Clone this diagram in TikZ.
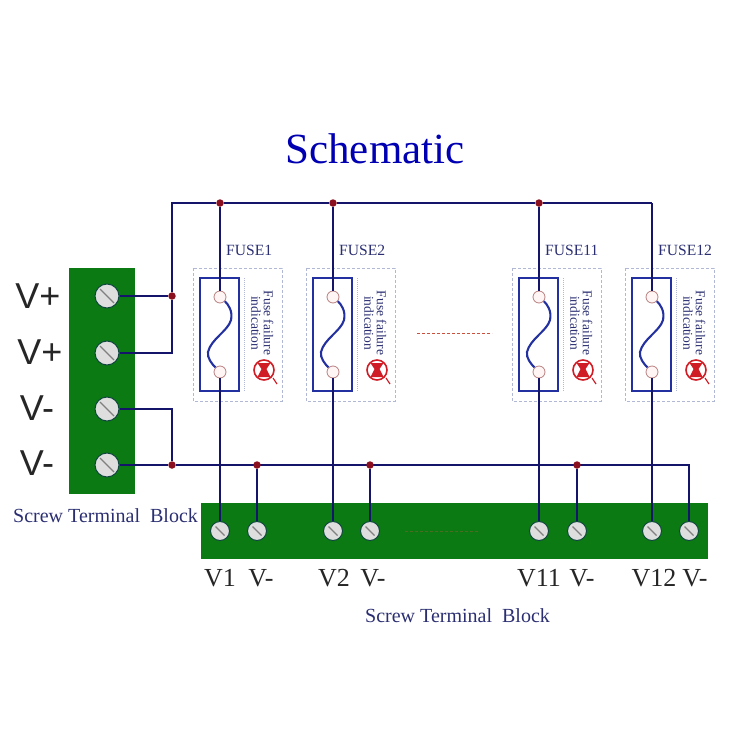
\documentclass[tikz,border=0pt]{standalone}
\usepackage{fontspec}
\setmainfont{Liberation Serif}
\newfontfamily\labelsans{Liberation Sans}
\definecolor{wirenavy}{HTML}{14146A}
\definecolor{blockgreen}{HTML}{0B7A12}
\definecolor{dotred}{HTML}{8A1020}
\definecolor{fuseblue}{HTML}{2330A0}
\definecolor{framegray}{HTML}{B0B8D6}
\definecolor{labelblue}{HTML}{2B2F72}
\definecolor{ledred}{HTML}{D01C24}
\definecolor{gapred}{HTML}{C8503C}
\begin{document}
\begin{tikzpicture}[x=1pt,y=-1pt]
  \tikzstyle{wire}=[draw=wirenavy, line width=2pt]
  \tikzstyle{junction}=[circle, fill=dotred, minimum size=7.5pt, inner sep=0pt]
  \tikzstyle{block}=[fill=blockgreen, draw=none, inner sep=0pt]
  \tikzstyle{screw}=[circle, draw=wirenavy!50!blockgreen, line width=1pt, fill=black!13, minimum size=19pt, inner sep=0pt,
    path picture={\draw[black!50, line width=1.3pt] ([xshift=5pt,yshift=-5pt]path picture bounding box.north west) -- ([xshift=-5pt,yshift=5pt]path picture bounding box.south east);}]
  \tikzstyle{bigscrew}=[screw, minimum size=24pt]
  \tikzstyle{contact}=[circle, draw=red!45!black!50, fill=red!4, line width=0.8pt, minimum size=12pt, inner sep=0pt]
  \tikzstyle{fuselabel}=[text=labelblue, font=\fontsize{15.6}{15.6}\selectfont, inner sep=0pt]
  \tikzstyle{hint}=[text=labelblue, font=\fontsize{13.5}{13.5}\selectfont, rotate=-90, inner sep=0pt]
  \tikzstyle{portsans}=[font=\labelsans\fontsize{36}{36}\selectfont, text=black!85, inner sep=0pt]
  \tikzstyle{portserif}=[font=\fontsize{26}{26}\selectfont, text=black!85, inner sep=0pt]
  \tikzstyle{blockname}=[text=labelblue, font=\fontsize{20}{20}\selectfont, inner sep=0pt]
  \useasboundingbox (0,0) rectangle (750,750);

  % Title
  \node[text=blue!70!black, font=\fontsize{43}{43}\selectfont, inner sep=0pt] (title) at (375,149) {Schematic};

  % Terminal blocks
  \node[block, minimum width=66pt, minimum height=226pt] (leftblock) at (102,381) {};
  \node[block, minimum width=507pt, minimum height=56pt] (bottomblock) at (454.5,531) {};

  % Left terminals
  \node[bigscrew] (la) at (107,296) {};
  \node[bigscrew] (lb) at (107,353) {};
  \node[bigscrew] (lc) at (107,409) {};
  \node[bigscrew] (ld) at (107,465) {};
  \node[portsans] (va) at (38,296) {V+};
  \node[portsans] (vb) at (40,352) {V+};
  \node[portsans] (vc) at (37,408) {V-};
  \node[portsans] (vd) at (37,463) {V-};

  % Junctions
  \node[junction] (jplus) at (172,296) {};
  \node[junction] (jminus) at (172,465) {};
  \node[junction] (jt1) at (220,203) {};
  \node[junction] (jt2) at (333,203) {};
  \node[junction] (jt11) at (539,203) {};
  \coordinate (jt12) at (652,203);
  \coordinate (cornertop) at (172,203);
  \coordinate (cornerb) at (172,353);
  \coordinate (cornerc) at (172,409);
  \coordinate (endbus) at (689,465);

  % One branch per fuse
  \foreach \x/\n/\lab/\port/\px/\nx/\mx in {220/1/FUSE1/V1/220/257/261, 333/2/FUSE2/V2/334/370/373, 539/11/FUSE11/V11/539/577/582, 652/12/FUSE12/V12/654/689/695}{
    \begin{scope}[shift={(\x,0)}]
      \node[fuselabel, anchor=west] (label\n) at (6,250) {\lab};
      \draw[framegray, densely dashed, line width=0.9pt] (-27,268) rectangle (62,401);
      \draw[fuseblue, line width=2pt] (-20,278) rectangle (19,391);
      \draw[framegray, densely dotted, line width=1pt] (24,278) -- (24,391);
      \node[contact] (fa\n) at (0,297) {};
      \node[contact] (fb\n) at (0,372) {};
      \draw[fuseblue, line width=2.1pt] (fa\n) .. controls (8,304) and (13,311) .. (11,320) .. controls (8,331) and (-9,339) .. (-12,352) .. controls (-13,358) and (-8,364) .. (fb\n);
      \node[hint] (hinta\n) at (48.5,323) {Fuse failure};
      \node[hint] (hintb\n) at (36,323) {indication};
      \node[circle, draw=ledred, line width=1.6pt, minimum size=20pt, inner sep=0pt] (led\n) at (44,370) {};
      \fill[ledred] (37.5,363) -- (50.5,363) -- (46.5,369) -- (50.5,377) -- (37.5,377) -- (41.5,369) -- cycle;
      \draw[ledred, line width=1.2pt] (53,378) -- (57,384);
      \node[screw] (pin\n) at (0,531) {};
    \end{scope}
    \node[portserif] (port\n) at (\px,578) {\port};
    \node[screw] (pinm\n) at (\nx,531) {};
    \node[portserif] (portm\n) at (\mx,578) {V-};
    \draw[wire] (jt\n) -- (fa\n);
    \draw[wire] (fb\n) -- (pin\n);
  }

  % Bus wires
  \draw[wire] (la) -- (jplus);
  \draw[wire] (lb) -- (cornerb) -- (jplus) -- (cornertop) -- (jt1) -- (jt2) -- (jt11) -- (jt12);
  \draw[wire] (lc) -- (cornerc) -- (jminus);
  \draw[wire] (ld) -- (jminus) -- (endbus) -- (pinm12);
  \foreach \n/\nx in {1/257, 2/370, 11/577}{
    \node[junction] (jb\n) at (\nx,465) {};
    \draw[wire] (jb\n) -- (pinm\n);
  }

  % Omitted channels
  \coordinate (gapa) at (417,333);
  \coordinate (gapb) at (492,333);
  \coordinate (gapc) at (405,531);
  \coordinate (gapd) at (480,531);
  \draw[gapred, densely dashed, line width=0.8pt] (gapa) -- (gapb);
  \draw[gapred!35!blockgreen, densely dashed, line width=0.7pt] (gapc) -- (gapd);

  % Block names
  \node[blockname, anchor=west] (namea) at (13,516) {Screw Terminal\ \ Block};
  \node[blockname, anchor=west] (nameb) at (365,616) {Screw Terminal\ \ Block};
\end{tikzpicture}
\end{document}
